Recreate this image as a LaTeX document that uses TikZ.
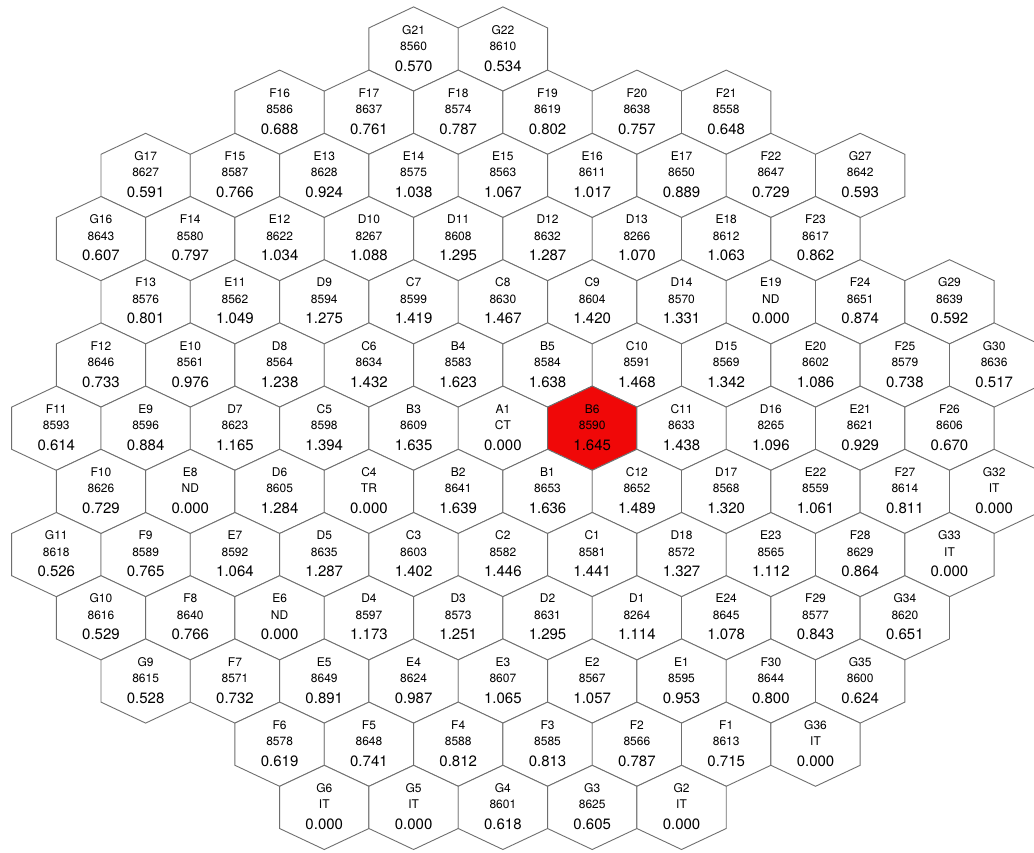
\documentclass[tikz,border=0pt]{standalone}
\usepackage{fontspec}
\setmainfont{TeX Gyre Heros}
\definecolor{edge}{RGB}{110,110,110}
\definecolor{hot}{RGB}{240,8,8}
\tikzset{
  hexline/.style={draw=edge,line width=0.9pt,line join=miter},
  lblname/.style={anchor=base,inner sep=0pt,font=\fontsize{12}{12}\selectfont},
  lblnum/.style={anchor=base,inner sep=0pt,font=\fontsize{12}{12}\selectfont},
  lblval/.style={anchor=base,inner sep=0pt,font=\fontsize{15}{15}\selectfont},
  plain/.style={fill=white},
  hotcell/.style={fill=hot}
}
\newcommand\hexcell[6]{%
  \pgfmathsetmacro\hcx{56.3+44.66*#1}%
  \pgfmathsetmacro\hcy{49+63.2*#2}%
  \draw[hexline,#6] (\hcx-44.66,\hcy-21.1) -- (\hcx,\hcy-42.1) -- (\hcx+44.66,\hcy-21.1)
     -- (\hcx+44.66,\hcy+21.1) -- (\hcx,\hcy+42.1) -- (\hcx-44.66,\hcy+21.1) -- cycle;
  \node[lblname] (#3) at (\hcx,\hcy-15) {#3};
  \node[lblnum] (#3-n) at (\hcx,\hcy+1.5) {#4};
  \node[lblval] (#3-v) at (\hcx,\hcy+22) {#5};
}
\begin{document}
\begin{tikzpicture}[x=1pt,y=-1pt]
\useasboundingbox (0,0) rectangle (1034,852);
\clip (0,0) rectangle (1034,852);
% row 0
\hexcell{8}{0}{G21}{8560}{0.570}{plain}
\hexcell{10}{0}{G22}{8610}{0.534}{plain}
% row 1
\hexcell{5}{1}{F16}{8586}{0.688}{plain}
\hexcell{7}{1}{F17}{8637}{0.761}{plain}
\hexcell{9}{1}{F18}{8574}{0.787}{plain}
\hexcell{11}{1}{F19}{8619}{0.802}{plain}
\hexcell{13}{1}{F20}{8638}{0.757}{plain}
\hexcell{15}{1}{F21}{8558}{0.648}{plain}
% row 2
\hexcell{2}{2}{G17}{8627}{0.591}{plain}
\hexcell{4}{2}{F15}{8587}{0.766}{plain}
\hexcell{6}{2}{E13}{8628}{0.924}{plain}
\hexcell{8}{2}{E14}{8575}{1.038}{plain}
\hexcell{10}{2}{E15}{8563}{1.067}{plain}
\hexcell{12}{2}{E16}{8611}{1.017}{plain}
\hexcell{14}{2}{E17}{8650}{0.889}{plain}
\hexcell{16}{2}{F22}{8647}{0.729}{plain}
\hexcell{18}{2}{G27}{8642}{0.593}{plain}
% row 3
\hexcell{1}{3}{G16}{8643}{0.607}{plain}
\hexcell{3}{3}{F14}{8580}{0.797}{plain}
\hexcell{5}{3}{E12}{8622}{1.034}{plain}
\hexcell{7}{3}{D10}{8267}{1.088}{plain}
\hexcell{9}{3}{D11}{8608}{1.295}{plain}
\hexcell{11}{3}{D12}{8632}{1.287}{plain}
\hexcell{13}{3}{D13}{8266}{1.070}{plain}
\hexcell{15}{3}{E18}{8612}{1.063}{plain}
\hexcell{17}{3}{F23}{8617}{0.862}{plain}
% row 4
\hexcell{2}{4}{F13}{8576}{0.801}{plain}
\hexcell{4}{4}{E11}{8562}{1.049}{plain}
\hexcell{6}{4}{D9}{8594}{1.275}{plain}
\hexcell{8}{4}{C7}{8599}{1.419}{plain}
\hexcell{10}{4}{C8}{8630}{1.467}{plain}
\hexcell{12}{4}{C9}{8604}{1.420}{plain}
\hexcell{14}{4}{D14}{8570}{1.331}{plain}
\hexcell{16}{4}{E19}{ND}{0.000}{plain}
\hexcell{18}{4}{F24}{8651}{0.874}{plain}
\hexcell{20}{4}{G29}{8639}{0.592}{plain}
% row 5
\hexcell{1}{5}{F12}{8646}{0.733}{plain}
\hexcell{3}{5}{E10}{8561}{0.976}{plain}
\hexcell{5}{5}{D8}{8564}{1.238}{plain}
\hexcell{7}{5}{C6}{8634}{1.432}{plain}
\hexcell{9}{5}{B4}{8583}{1.623}{plain}
\hexcell{11}{5}{B5}{8584}{1.638}{plain}
\hexcell{13}{5}{C10}{8591}{1.468}{plain}
\hexcell{15}{5}{D15}{8569}{1.342}{plain}
\hexcell{17}{5}{E20}{8602}{1.086}{plain}
\hexcell{19}{5}{F25}{8579}{0.738}{plain}
\hexcell{21}{5}{G30}{8636}{0.517}{plain}
% row 6
\hexcell{0}{6}{F11}{8593}{0.614}{plain}
\hexcell{2}{6}{E9}{8596}{0.884}{plain}
\hexcell{4}{6}{D7}{8623}{1.165}{plain}
\hexcell{6}{6}{C5}{8598}{1.394}{plain}
\hexcell{8}{6}{B3}{8609}{1.635}{plain}
\hexcell{10}{6}{A1}{CT}{0.000}{plain}
\hexcell{12}{6}{B6}{8590}{1.645}{hotcell}
\hexcell{14}{6}{C11}{8633}{1.438}{plain}
\hexcell{16}{6}{D16}{8265}{1.096}{plain}
\hexcell{18}{6}{E21}{8621}{0.929}{plain}
\hexcell{20}{6}{F26}{8606}{0.670}{plain}
% row 7
\hexcell{1}{7}{F10}{8626}{0.729}{plain}
\hexcell{3}{7}{E8}{ND}{0.000}{plain}
\hexcell{5}{7}{D6}{8605}{1.284}{plain}
\hexcell{7}{7}{C4}{TR}{0.000}{plain}
\hexcell{9}{7}{B2}{8641}{1.639}{plain}
\hexcell{11}{7}{B1}{8653}{1.636}{plain}
\hexcell{13}{7}{C12}{8652}{1.489}{plain}
\hexcell{15}{7}{D17}{8568}{1.320}{plain}
\hexcell{17}{7}{E22}{8559}{1.061}{plain}
\hexcell{19}{7}{F27}{8614}{0.811}{plain}
\hexcell{21}{7}{G32}{IT}{0.000}{plain}
% row 8
\hexcell{0}{8}{G11}{8618}{0.526}{plain}
\hexcell{2}{8}{F9}{8589}{0.765}{plain}
\hexcell{4}{8}{E7}{8592}{1.064}{plain}
\hexcell{6}{8}{D5}{8635}{1.287}{plain}
\hexcell{8}{8}{C3}{8603}{1.402}{plain}
\hexcell{10}{8}{C2}{8582}{1.446}{plain}
\hexcell{12}{8}{C1}{8581}{1.441}{plain}
\hexcell{14}{8}{D18}{8572}{1.327}{plain}
\hexcell{16}{8}{E23}{8565}{1.112}{plain}
\hexcell{18}{8}{F28}{8629}{0.864}{plain}
\hexcell{20}{8}{G33}{IT}{0.000}{plain}
% row 9
\hexcell{1}{9}{G10}{8616}{0.529}{plain}
\hexcell{3}{9}{F8}{8640}{0.766}{plain}
\hexcell{5}{9}{E6}{ND}{0.000}{plain}
\hexcell{7}{9}{D4}{8597}{1.173}{plain}
\hexcell{9}{9}{D3}{8573}{1.251}{plain}
\hexcell{11}{9}{D2}{8631}{1.295}{plain}
\hexcell{13}{9}{D1}{8264}{1.114}{plain}
\hexcell{15}{9}{E24}{8645}{1.078}{plain}
\hexcell{17}{9}{F29}{8577}{0.843}{plain}
\hexcell{19}{9}{G34}{8620}{0.651}{plain}
% row 10
\hexcell{2}{10}{G9}{8615}{0.528}{plain}
\hexcell{4}{10}{F7}{8571}{0.732}{plain}
\hexcell{6}{10}{E5}{8649}{0.891}{plain}
\hexcell{8}{10}{E4}{8624}{0.987}{plain}
\hexcell{10}{10}{E3}{8607}{1.065}{plain}
\hexcell{12}{10}{E2}{8567}{1.057}{plain}
\hexcell{14}{10}{E1}{8595}{0.953}{plain}
\hexcell{16}{10}{F30}{8644}{0.800}{plain}
\hexcell{18}{10}{G35}{8600}{0.624}{plain}
% row 11
\hexcell{5}{11}{F6}{8578}{0.619}{plain}
\hexcell{7}{11}{F5}{8648}{0.741}{plain}
\hexcell{9}{11}{F4}{8588}{0.812}{plain}
\hexcell{11}{11}{F3}{8585}{0.813}{plain}
\hexcell{13}{11}{F2}{8566}{0.787}{plain}
\hexcell{15}{11}{F1}{8613}{0.715}{plain}
\hexcell{17}{11}{G36}{IT}{0.000}{plain}
% row 12
\hexcell{6}{12}{G6}{IT}{0.000}{plain}
\hexcell{8}{12}{G5}{IT}{0.000}{plain}
\hexcell{10}{12}{G4}{8601}{0.618}{plain}
\hexcell{12}{12}{G3}{8625}{0.605}{plain}
\hexcell{14}{12}{G2}{IT}{0.000}{plain}
\end{tikzpicture}
\end{document}
